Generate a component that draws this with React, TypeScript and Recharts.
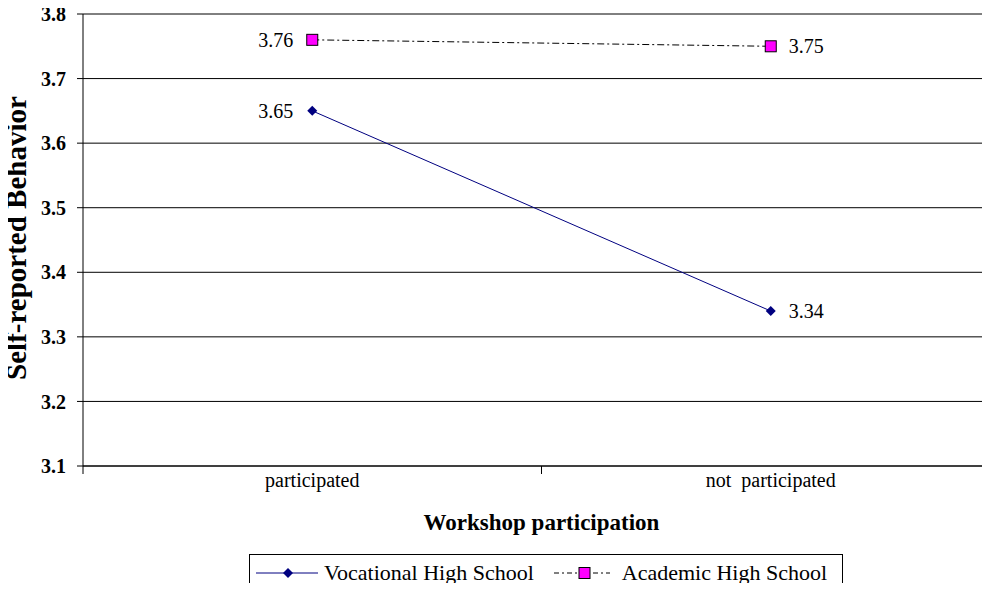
import { CartesianGrid, Label, LabelList, Legend, Line, LineChart, XAxis, YAxis } from "recharts";

const categories = ["participated", "not\u00a0 participated"];
const vocational = [3.65, 3.34];
const academic = [3.76, 3.75];
const yTicks = [3.1, 3.2, 3.3, 3.4, 3.5, 3.6, 3.7, 3.8];

const data = categories.map((name, i) => ({
  x: i + 0.5,
  name,
  vocational: vocational[i],
  academic: academic[i],
}));

const xTicks = [0, 0.5, 1, 1.5, 2];
const FONT = '"Liberation Serif", "Times New Roman", serif';

// integer ticks = band edges (tick mark only), half ticks = category labels
const XTick = (props: any) => {
  const { x, y, payload } = props;
  const v = payload.value;
  if (Number.isInteger(v)) {
    return <line x1={x} x2={x} y1={y - 8} y2={y} stroke="#000" />;
  }
  return (
    <text x={x} y={y + 13} textAnchor="middle" fontFamily={FONT} fontSize={20} fill="#000">
      {categories[Math.floor(v)]}
    </text>
  );
};

const valueLabel = (props: any) => {
  const { x, y, value, index } = props;
  const left = index === 0;
  return (
    <text
      x={left ? x - 19 : x + 18}
      y={y + 7}
      textAnchor={left ? "end" : "start"}
      fontFamily={FONT}
      fontSize={20}
      fill="#000"
    >
      {Number(value).toFixed(2)}
    </text>
  );
};

const Diamond = (props: any) => {
  const { cx, cy } = props;
  return <path d={`M${cx},${cy - 5} L${cx + 5},${cy} L${cx},${cy + 5} L${cx - 5},${cy} Z`} fill="#000080" />;
};

const Square = (props: any) => {
  const { cx, cy } = props;
  return <rect x={cx - 5.5} y={cy - 5.5} width={11} height={11} fill="#FF00FF" stroke="#000" strokeWidth={1} />;
};

const LegendBox = () => (
  <div
    style={{
      border: "1px solid #000",
      borderBottom: "none",
      height: 37,
      display: "flex",
      alignItems: "center",
      fontFamily: FONT,
      fontSize: 22,
      color: "#000",
      boxSizing: "border-box",
      paddingLeft: 6,
      whiteSpace: "nowrap",
    }}
  >
    <svg width={62} height={12}>
      <line x1={0} x2={62} y1={6} y2={6} stroke="#000080" strokeWidth={1} />
      <path d="M32,1 L37,6 L32,11 L27,6 Z" fill="#000080" />
    </svg>
    <span style={{ marginLeft: 6 }}>Vocational High School</span>
    <svg width={56} height={12} style={{ marginLeft: 20 }}>
      <line x1={0} x2={56} y1={6} y2={6} stroke="#000" strokeWidth={1} strokeDasharray="5 3 2 3" />
      <rect x={25} y={0.5} width={11} height={11} fill="#FF00FF" stroke="#000" />
    </svg>
    <span style={{ marginLeft: 12 }}>Academic High School</span>
  </div>
);

export default function App() {
  return (
    <div style={{ margin: -8, width: 990, height: 591, overflow: "hidden", background: "#fff" }}>
      <LineChart width={1000} height={591} data={data} margin={{ top: 14, right: 0, bottom: 18, left: 0 }}>
        <CartesianGrid vertical={false} stroke="#000" strokeWidth={1} />
        <XAxis
          dataKey="x"
          type="number"
          domain={[0, 2]}
          ticks={xTicks}
          interval={0}
          tickLine={false}
          axisLine={{ stroke: "#000" }}
          tick={<XTick />}
          height={70}
        >
          <Label
            content={(p: any) => {
              const vb = p.viewBox;
              return (
                <text
                  x={vb.x + vb.width / 2}
                  y={vb.y + 64}
                  textAnchor="middle"
                  fontFamily={FONT}
                  fontSize={23}
                  fontWeight="bold"
                  fill="#000"
                >
                  Workshop participation
                </text>
              );
            }}
          />
        </XAxis>
        <YAxis
          type="number"
          domain={[3.1, 3.8]}
          ticks={yTicks}
          interval={0}
          width={83}
          tickSize={6}
          tickMargin={11}
          tickFormatter={(v: number) => v.toFixed(1)}
          axisLine={{ stroke: "#000" }}
          tickLine={{ stroke: "#000" }}
          tick={{ fontFamily: FONT, fontSize: 20, fontWeight: "bold", fill: "#000" }}
        >
          <Label
            content={(p: any) => {
              const vb = p.viewBox;
              const cy = vb.y + vb.height / 2 - 2;
              return (
                <text
                  x={26}
                  y={cy}
                  transform={`rotate(-90, 26, ${cy})`}
                  textAnchor="middle"
                  fontFamily={FONT}
                  fontSize={29}
                  fontWeight="bold"
                  fill="#000"
                >
                  Self-reported Behavior
                </text>
              );
            }}
          />
        </YAxis>
        <Legend
          content={<LegendBox />}
          wrapperStyle={{ position: "absolute", left: 249, top: 554, width: 594, height: 37 }}
        />
        <Line
          dataKey="vocational"
          name="Vocational High School"
          stroke="#000080"
          strokeWidth={1}
          dot={<Diamond />}
          activeDot={false}
          isAnimationActive={false}
        >
          <LabelList dataKey="vocational" content={valueLabel} />
        </Line>
        <Line
          dataKey="academic"
          name="Academic High School"
          stroke="#000"
          strokeWidth={1}
          strokeDasharray="7 3 2 3"
          dot={<Square />}
          activeDot={false}
          isAnimationActive={false}
        >
          <LabelList dataKey="academic" content={valueLabel} />
        </Line>
      </LineChart>
    </div>
  );
}
